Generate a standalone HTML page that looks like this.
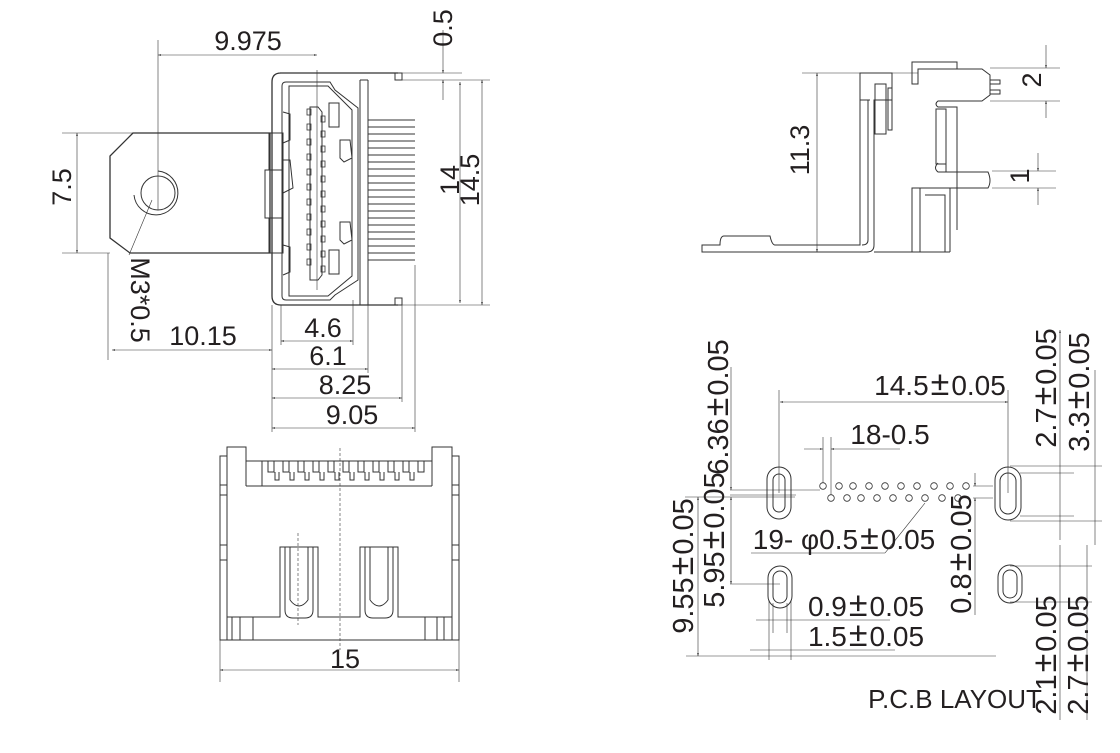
<!DOCTYPE html>
<html><head><meta charset="utf-8"><style>
html,body{margin:0;padding:0;background:#fff;}
svg{display:block;}
text{font-family:"Liberation Sans",sans-serif;fill:#231f20;}
</style></head><body>
<svg width="1120" height="753" viewBox="0 0 1120 753" xmlns="http://www.w3.org/2000/svg">
<defs>
<marker id="a" viewBox="0 0 10 10" refX="10" refY="5" markerWidth="5" markerHeight="5" orient="auto-start-reverse"><path d="M0,2 L10,5 L0,8z" fill="#333"/></marker>
</defs>
<g fill="none" stroke="#333" stroke-width="1">
<!-- TOP-LEFT VIEW -->
<path d="M133,133 L110,156 L110,238 L130,253 L270,253 L270,133 Z" stroke-width="1.3"/>
<circle cx="158" cy="193" r="17"/>
<path d="M158,171 A22,22 0 1 1 134,195"/>
<line x1="158" y1="40" x2="158" y2="210" stroke-width="0.6"/>
<line x1="152" y1="200" x2="129" y2="255" stroke-width="0.6"/>
<rect x="265" y="170" width="18" height="48"/>
<rect x="269" y="133" width="14" height="37"/>
<rect x="269" y="218" width="14" height="35"/>
<path d="M280,73 L398,73 M272,82 Q272,73 281,73 M272,82 L272,296 Q272,305 281,305 L398,305" stroke-width="1.3"/>
<rect x="395" y="73" width="7" height="7"/><rect x="395" y="298" width="7" height="7"/>
<path d="M286,82 L330,82 L335,90 L358,108 L358,280 L335,295 L330,300 L286,300 Q282,300 282,296 L282,86 Q282,82 286,82Z"/>
<path d="M289,86 L328,86 L352,110 L352,276 L328,296 L289,296Z"/>
<line x1="360" y1="80" x2="360" y2="305"/><line x1="368" y1="80" x2="368" y2="305"/>
<line x1="360" y1="80" x2="368" y2="80"/>
<path d="M310,107 L318,107 L322,112 L322,275 L318,280 L310,280Z"/>
<line x1="317" y1="70" x2="317" y2="290" stroke-width="0.6"/>
<g stroke-width="0.8">
<rect x="307" y="109" width="4" height="6"/><rect x="307" y="124" width="4" height="6"/><rect x="307" y="139" width="4" height="6"/><rect x="307" y="154" width="4" height="6"/><rect x="307" y="169" width="4" height="6"/><rect x="307" y="184" width="4" height="6"/><rect x="307" y="199" width="4" height="6"/><rect x="307" y="214" width="4" height="6"/><rect x="307" y="229" width="4" height="6"/><rect x="307" y="244" width="4" height="6"/><rect x="307" y="259" width="4" height="6"/>
<rect x="321" y="116" width="4" height="6"/><rect x="321" y="131" width="4" height="6"/><rect x="321" y="146" width="4" height="6"/><rect x="321" y="161" width="4" height="6"/><rect x="321" y="176" width="4" height="6"/><rect x="321" y="191" width="4" height="6"/><rect x="321" y="206" width="4" height="6"/><rect x="321" y="221" width="4" height="6"/><rect x="321" y="236" width="4" height="6"/><rect x="321" y="251" width="4" height="6"/><rect x="321" y="266" width="4" height="6"/>
</g>
<path d="M283,112 L290,114 L290,140 L283,143"/><path d="M283,245 L290,247 L290,272 L283,275"/>
<path d="M283,160 L290,160 L293,188 L283,193"/>
<path d="M340,140 L350,140 L352,158 L344,162 L340,158Z"/><path d="M340,222 L350,222 L352,240 L344,244 L340,240Z"/>
<rect x="329" y="103" width="10" height="24"/><rect x="329" y="250" width="10" height="24"/>
<path d="M368,120H415M368,127H415M368,134H415M368,141H415M368,148H415M368,155H415M368,162H415M368,169H415M368,176H415M368,183H415M368,190H415M368,197H415M368,204H415M368,211H415M368,218H415M368,225H415M368,232H415M368,239H415M368,246H415M368,253H415M368,260H415"/>
<g stroke-width="0.6">
<line x1="158" y1="55" x2="317" y2="55" marker-start="url(#a)" marker-end="url(#a)"/>
<line x1="62" y1="133" x2="270" y2="133"/><line x1="62" y1="253" x2="110" y2="253"/>
<line x1="77" y1="133" x2="77" y2="253" marker-start="url(#a)" marker-end="url(#a)"/>
<line x1="402" y1="73" x2="462" y2="73"/><line x1="402" y1="80" x2="490" y2="80"/>
<line x1="443" y1="30" x2="443" y2="73" marker-end="url(#a)"/><line x1="443" y1="80" x2="443" y2="100" marker-start="url(#a)"/>
<line x1="460" y1="82" x2="460" y2="303" marker-start="url(#a)" marker-end="url(#a)"/>
<line x1="482" y1="80" x2="482" y2="305" marker-start="url(#a)" marker-end="url(#a)"/>
<line x1="402" y1="305" x2="490" y2="305"/>
<line x1="108" y1="253" x2="108" y2="360"/>
<line x1="112" y1="350" x2="272" y2="350" marker-start="url(#a)" marker-end="url(#a)"/>
<line x1="272" y1="305" x2="272" y2="432"/>
<line x1="281" y1="305" x2="281" y2="345"/>
<line x1="353" y1="300" x2="353" y2="345"/>
<line x1="368" y1="305" x2="368" y2="373"/>
<line x1="402" y1="305" x2="402" y2="402"/>
<line x1="415" y1="265" x2="415" y2="432"/>
<line x1="281" y1="341" x2="353" y2="341" marker-start="url(#a)" marker-end="url(#a)"/>
<line x1="272" y1="369" x2="368" y2="369" marker-start="url(#a)" marker-end="url(#a)"/>
<line x1="272" y1="398" x2="402" y2="398" marker-start="url(#a)" marker-end="url(#a)"/>
<line x1="272" y1="428" x2="415" y2="428" marker-start="url(#a)" marker-end="url(#a)"/>
</g>
<!-- BOTTOM-LEFT VIEW -->
<path d="M227,447 L246,447 L246,461 L432,461 L432,447 L452,447 L452,617 L398,617 L398,547 L360,547 L360,617 L318,617 L318,547 L280,547 L280,617 L227,617Z"/>
<line x1="246" y1="461" x2="246" y2="486"/><line x1="432" y1="461" x2="432" y2="486"/>
<line x1="246" y1="486" x2="432" y2="486"/><line x1="262" y1="461" x2="262" y2="486"/>
<rect x="220" y="456" width="7" height="184"/><rect x="452" y="456" width="7" height="184"/>
<line x1="227" y1="640" x2="452" y2="640"/><line x1="227" y1="617" x2="227" y2="640"/><line x1="452" y1="617" x2="452" y2="640"/>
<path d="M232,617V640M240,617V640M253,617V640M425,617V640M437,617V640M444,617V640"/>
<path d="M220,485H227M220,495H227M220,545H227M220,560H227M452,485H459M452,495H459M452,545H459M452,560H459"/>
<path d="M285,547V610Q285,618 293,618H305Q313,618 313,610V547M290,547V600M308,547V600M290,600Q299,612 308,600"/>
<path d="M365,547V610Q365,618 373,618H385Q393,618 393,610V547M370,547V600M388,547V600M370,600Q379,612 388,600"/>
<path d="M268,461V472H274V461M283,461V472H289V461M298,461V472H304V461M313,461V472H319V461M328,461V472H334V461M343,461V472H349V461M358,461V472H364V461M373,461V472H379V461M388,461V472H394V461M403,461V472H409V461M418,461V472H424V461"/>
<path d="M275,472V480H279V472M290,472V480H294V472M305,472V480H309V472M320,472V480H324V472M335,472V480H339V472M350,472V480H354V472M365,472V480H369V472M380,472V480H384V472M395,472V480H399V472M410,472V480H414V472"/>
<line x1="340" y1="448" x2="340" y2="650" stroke-dasharray="3,2" stroke-width="0.6"/>
<line x1="298" y1="533" x2="298" y2="625" stroke-dasharray="3,2" stroke-width="0.6"/>
<line x1="220" y1="640" x2="220" y2="682" stroke-width="0.6"/><line x1="459" y1="640" x2="459" y2="682" stroke-width="0.6"/>
<line x1="220" y1="670" x2="459" y2="670" stroke-width="0.6" marker-start="url(#a)" marker-end="url(#a)"/>
<!-- TOP-RIGHT SIDE VIEW -->
<path d="M860,73 L892,73 L892,100 L874,100 L874,245 Q874,252 867,252 L702,252 L702,245 L720,245 Q720,236 724,236 L770,236 Q772,245 775,245 L860,245 Z"/>
<path d="M860,100 L870,100 M868,100 L868,240 Q868,245 862,245"/>
<path d="M874,252 L950,252"/>
<rect x="875" y="84" width="11" height="50"/>
<rect x="888" y="88" width="4" height="42"/>
<path d="M912,62 L957,62 L957,69 L918,69 L918,84 L912,84Z"/>
<path d="M918,69 L982,69 L990,75 L990,95 L982,101 L938,101 Q934,104 938,107 L957,107 L957,230"/>
<path d="M990,80H1000V84H990M990,90H1000V94H990"/>
<rect x="936" y="109" width="10" height="55"/>
<path d="M938,163 Q933,168 938,172 L988,172 Q992,181 988,188 L912,188 L912,252 M912,188 L950,188 L950,252 M920,188 V252 M925,195 H945 V252 M946,164 V172"/>
<line x1="892" y1="73" x2="918" y2="73" stroke-width="0.6"/>
<g stroke-width="0.6">
<line x1="802" y1="73" x2="860" y2="73"/><line x1="817" y1="73" x2="817" y2="252" marker-start="url(#a)" marker-end="url(#a)"/>
<line x1="990" y1="68" x2="1060" y2="68"/><line x1="990" y1="101" x2="1060" y2="101"/>
<line x1="1046" y1="45" x2="1046" y2="68" marker-end="url(#a)"/><line x1="1046" y1="101" x2="1046" y2="118" marker-start="url(#a)"/>
<line x1="992" y1="171" x2="1056" y2="171"/><line x1="992" y1="188" x2="1056" y2="188"/>
<line x1="1038" y1="153" x2="1038" y2="171" marker-end="url(#a)"/><line x1="1038" y1="188" x2="1038" y2="205" marker-start="url(#a)"/>
</g>
<!-- PCB LAYOUT -->
<rect x="767" y="467" width="24" height="52" rx="12"/><rect x="773" y="474" width="12" height="38" rx="6"/>
<rect x="768" y="566" width="24" height="42" rx="12"/><rect x="773" y="571" width="14" height="32" rx="7"/>
<rect x="995" y="467" width="26" height="53" rx="13"/><rect x="1000" y="473" width="16" height="41" rx="8"/>
<rect x="998" y="565" width="24" height="38" rx="12"/><rect x="1003" y="570" width="14" height="28" rx="7"/>
<g stroke-width="0.8">
<circle cx="823" cy="486" r="3.3"/><circle cx="839" cy="486" r="3.3"/><circle cx="853" cy="486" r="3.3"/><circle cx="869" cy="486" r="3.3"/><circle cx="885" cy="486" r="3.3"/><circle cx="901" cy="486" r="3.3"/><circle cx="917" cy="486" r="3.3"/><circle cx="934" cy="486" r="3.3"/><circle cx="950" cy="486" r="3.3"/><circle cx="966" cy="486" r="3.3"/>
<circle cx="831" cy="498" r="3.3"/><circle cx="847" cy="498" r="3.3"/><circle cx="861" cy="498" r="3.3"/><circle cx="877" cy="498" r="3.3"/><circle cx="893" cy="498" r="3.3"/><circle cx="909" cy="498" r="3.3"/><circle cx="925" cy="498" r="3.3"/><circle cx="942" cy="498" r="3.3"/><circle cx="958" cy="498" r="3.3"/>
</g>
<g stroke-width="0.6">
<line x1="779" y1="390" x2="779" y2="493"/><line x1="1008" y1="390" x2="1008" y2="493"/>
<line x1="780" y1="402" x2="1008" y2="402" marker-start="url(#a)" marker-end="url(#a)"/>
<line x1="823" y1="437" x2="823" y2="483"/><line x1="831" y1="437" x2="831" y2="495"/>
<line x1="804" y1="449" x2="823" y2="449" marker-end="url(#a)"/><line x1="831" y1="449" x2="900" y2="449" marker-start="url(#a)"/>
<line x1="730" y1="490" x2="820" y2="490"/><line x1="730" y1="495" x2="796" y2="495"/><line x1="730" y1="584" x2="780" y2="584"/>
<line x1="686" y1="656" x2="996" y2="656"/><line x1="698" y1="497" x2="698" y2="656" marker-start="url(#a)" marker-end="url(#a)"/>
<line x1="685" y1="497" x2="795" y2="497"/>
<line x1="731" y1="367" x2="731" y2="490" marker-end="url(#a)"/>
<line x1="731" y1="497" x2="731" y2="584" marker-start="url(#a)" marker-end="url(#a)"/>
<line x1="751" y1="553" x2="885" y2="553"/><line x1="885" y1="553" x2="925" y2="503"/>
<line x1="973" y1="486" x2="993" y2="486"/><line x1="973" y1="498" x2="993" y2="498"/>
<line x1="975" y1="473" x2="975" y2="486" marker-end="url(#a)"/><line x1="975" y1="498" x2="975" y2="615" marker-start="url(#a)"/>
<line x1="1020" y1="473" x2="1074" y2="473"/><line x1="1020" y1="516" x2="1074" y2="516"/>
<line x1="1010" y1="466" x2="1102" y2="466"/><line x1="1010" y1="521" x2="1102" y2="521"/>
<line x1="1060" y1="330" x2="1060" y2="540" marker-start="url(#a)"/>
<line x1="1095" y1="370" x2="1095" y2="545"/>
<line x1="1060" y1="545" x2="1060" y2="720"/><line x1="1087" y1="545" x2="1087" y2="720"/>
<line x1="1010" y1="566" x2="1092" y2="566"/><line x1="1010" y1="602" x2="1092" y2="602"/>
<line x1="769" y1="600" x2="769" y2="660"/><line x1="791" y1="600" x2="791" y2="660"/>
<line x1="773" y1="603" x2="773" y2="633"/><line x1="787" y1="603" x2="787" y2="633"/>
<line x1="756" y1="620" x2="890" y2="620"/><line x1="750" y1="650" x2="895" y2="650"/>
</g>
</g>
<!-- LABELS -->
<g font-size="27">
<text x="248" y="50" text-anchor="middle">9.975</text>
<text transform="translate(443,28) rotate(-90)" text-anchor="middle" dy="9">0.5</text>
<text transform="translate(62,187) rotate(-90)" text-anchor="middle" dy="9">7.5</text>
<text transform="translate(450,180) rotate(-90)" text-anchor="middle" dy="9">14</text>
<text transform="translate(470,180) rotate(-90)" text-anchor="middle" dy="9">14.5</text>
<text transform="translate(140,300) rotate(90)" text-anchor="middle" dy="9">M3*0.5</text>
<text x="203" y="345" text-anchor="middle">10.15</text>
<text x="323" y="337" text-anchor="middle">4.6</text>
<text x="328" y="365" text-anchor="middle">6.1</text>
<text x="345" y="394" text-anchor="middle">8.25</text>
<text x="352" y="424" text-anchor="middle">9.05</text>
<text x="345" y="668" text-anchor="middle">15</text>
<text transform="translate(800,150) rotate(-90)" text-anchor="middle" dy="9">11.3</text>
<text transform="translate(1032,80) rotate(-90)" text-anchor="middle" dy="9">2</text>
<text transform="translate(1020,176) rotate(-90)" text-anchor="middle" dy="9">1</text>
</g>
<g font-size="28">
<text x="940" y="395" text-anchor="middle">14.5<tspan font-size="34" dx="2">±</tspan><tspan dx="2">0.05</tspan></text>
<text x="890" y="444" text-anchor="middle">18-0.5</text>
<text x="844" y="549" text-anchor="middle">19- φ0.5<tspan font-size="34" dx="2">±</tspan><tspan dx="2">0.05</tspan></text>
<text x="866" y="616" text-anchor="middle">0.9<tspan font-size="34" dx="2">±</tspan><tspan dx="2">0.05</tspan></text>
<text x="866" y="646" text-anchor="middle">1.5<tspan font-size="34" dx="2">±</tspan><tspan dx="2">0.05</tspan></text>
</g>
<g font-size="29">
<text transform="translate(718,407) rotate(-90)" text-anchor="middle" dy="10">6.36<tspan font-size="34" dx="2">±</tspan><tspan dx="2">0.05</tspan></text>
<text transform="translate(714,540) rotate(-90)" text-anchor="middle" dy="10">5.95<tspan font-size="34" dx="2">±</tspan><tspan dx="2">0.05</tspan></text>
<text transform="translate(683,566) rotate(-90)" text-anchor="middle" dy="10">9.55<tspan font-size="34" dx="2">±</tspan><tspan dx="2">0.05</tspan></text>
<text transform="translate(961,554) rotate(-90)" text-anchor="middle" dy="10">0.8<tspan font-size="34" dx="2">±</tspan><tspan dx="2">0.05</tspan></text>
<text transform="translate(1046,388) rotate(-90)" text-anchor="middle" dy="10">2.7<tspan font-size="34" dx="2">±</tspan><tspan dx="2">0.05</tspan></text>
<text transform="translate(1079,392) rotate(-90)" text-anchor="middle" dy="10">3.3<tspan font-size="34" dx="2">±</tspan><tspan dx="2">0.05</tspan></text>
<text transform="translate(1046,655) rotate(-90)" text-anchor="middle" dy="10">2.1<tspan font-size="34" dx="2">±</tspan><tspan dx="2">0.05</tspan></text>
<text transform="translate(1078,655) rotate(-90)" text-anchor="middle" dy="10">2.7<tspan font-size="34" dx="2">±</tspan><tspan dx="2">0.05</tspan></text>
</g>
<text x="955" y="708" text-anchor="middle" font-size="26">P.C.B LAYOUT</text>
</svg>
</body></html>
